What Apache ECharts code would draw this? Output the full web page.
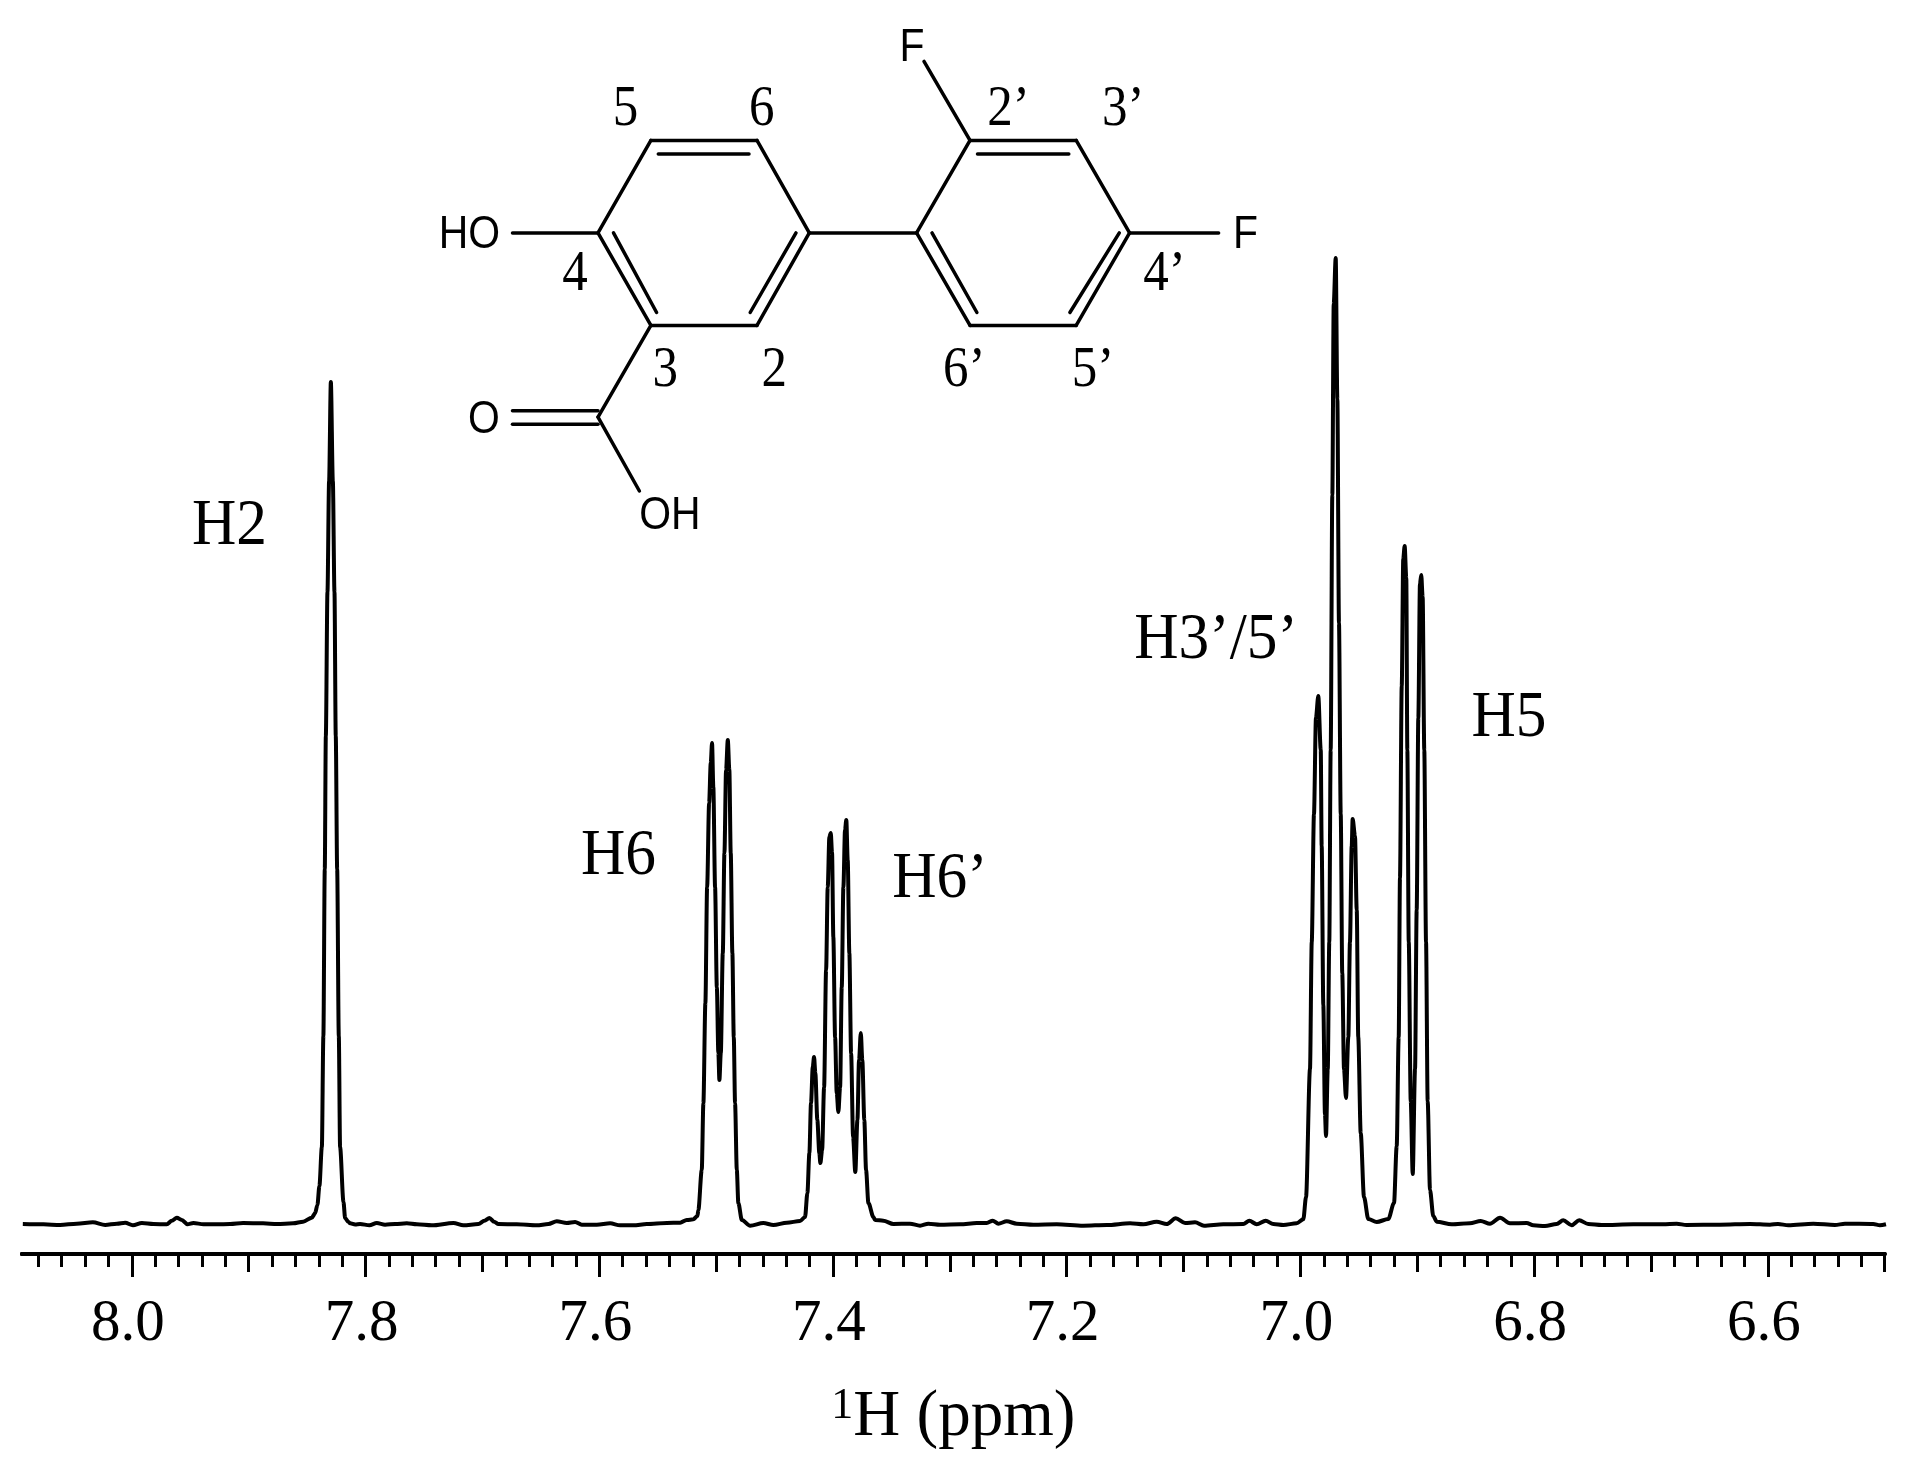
<!DOCTYPE html>
<html>
<head>
<meta charset="utf-8">
<style>html,body{margin:0;padding:0;background:#fff}#c{width:1924px;height:1468px}</style>
<script src="https://cdn.jsdelivr.net/npm/echarts@6/dist/echarts.min.js"></script>
</head>
<body>
<div id="c"></div>
<script>
// [ppm, intensity] pairs
const baselineA = [[8.0933,0],[8.0756,-.3],[8.0614,-1],[8.0471,.3],[8.0334,1.7],[8.0228,-1],[8.0128,.3],[8.0057,1.3],[7.9991,-1.3],[7.9914,1],[7.9815,0],[7.9701,-.3],[7.9658,3.3],[7.9615,6.3],[7.9572,4],[7.9524,-.3],[7.9473,1],[7.9387,-.3],[7.9273,-.3],[7.9159,0],[7.9048,1],[7.8877,.7],[7.8757,0],[7.8620,.7],[7.8534,2.3]];
const peakH2 = [[7.8460,6.3],[7.8432,10.7],[7.8412,19],[7.8395,38],[7.8374,77],[7.8361,188],[7.8349,355],[7.8340,488],[7.8326,632],[7.8312,743],[7.8297,842],[7.8280,743],[7.8266,632],[7.8255,488],[7.8243,355],[7.8229,188],[7.8218,77],[7.8189,22],[7.8175,6],[7.8147,2],[7.8132,.7]];
const baselineB = [[7.8089,-.5],[7.8047,0],[7.7967,-1.3],[7.7904,1],[7.7833,-.7],[7.7747,0],[7.7647,.7],[7.7561,-.3],[7.7433,-1.3],[7.7248,1],[7.7163,-1.3],[7.7034,0],[7.6983,3.3],[7.6940,6],[7.6900,2.3],[7.6863,0],[7.6706,-.3],[7.6535,-1.3],[7.6435,0],[7.6364,2.7],[7.6278,1],[7.6207,2],[7.6150,-.7],[7.6021,-.7],[7.5907,.7],[7.5822,-1.3],[7.5708,-1.3],[7.5593,0],[7.5422,1],[7.5308,1.3],[7.5251,4],[7.5195,4.7],[7.5160,8]];
const peakH6 = [[7.5152,14],[7.5123,54],[7.5109,121],[7.5092,221],[7.5077,337],[7.5060,421],[7.5046,461],[7.5035,481],[7.5024,437],[7.5009,337],[7.4994,237],[7.4981,171],[7.4972,144],[7.4960,171],[7.4943,271],[7.4929,371],[7.4915,454],[7.4900,484],[7.4887,454],[7.4875,371],[7.4861,271],[7.4849,187],[7.4838,121],[7.4823,54],[7.4810,21],[7.4780,4]];
const baselineC = [[7.4709,-1.7],[7.4596,1],[7.4510,-1],[7.4395,1.3],[7.4282,3],[7.4239,7]];
const peakH6p = [[7.4219,31],[7.4202,71],[7.4188,121],[7.4173,157],[7.4162,167],[7.4151,151],[7.4134,104],[7.4117,71],[7.4108,61],[7.4093,74],[7.4076,137],[7.4059,254],[7.4045,337],[7.4031,387],[7.4019,391],[7.4008,371],[7.3997,287],[7.3982,187],[7.3968,131],[7.3954,112],[7.3939,137],[7.3925,237],[7.3911,337],[7.3897,394],[7.3886,404],[7.3874,364],[7.3860,271],[7.3845,171],[7.3828,87],[7.3809,52],[7.3791,104],[7.3777,164],[7.3762,191],[7.3749,164],[7.3732,104],[7.3717,54],[7.3697,21],[7.3654,7]];
const baselineD = [[7.3640,4],[7.3569,3.3],[7.3483,0],[7.3341,.3],[7.3255,-1.7],[7.3184,.3],[7.3084,-.7],[7.2913,-.3],[7.2770,1],[7.2684,1],[7.2633,3.3],[7.2585,.3],[7.2513,2.7],[7.2427,.3],[7.2285,-.7],[7.2085,-.3],[7.1858,-1.7],[7.1657,-1],[7.1458,.7],[7.1344,-.3],[7.1230,2.3],[7.1144,0],[7.1067,5.7],[7.0987,1],[7.0902,1.7],[7.0825,-1.7],[7.0660,-.3],[7.0489,0],[7.0437,3.3],[7.0374,-.3],[7.0297,3.3],[7.0232,0],[7.0146,-1],[7.0032,.7],[6.9975,4.7]];
const peakH35 = [[6.9952,27],[6.9918,155],[6.9903,282],[6.9884,410],[6.9867,506],[6.9847,528],[6.9826,474],[6.9818,378],[6.9804,219],[6.9790,110],[6.9781,88],[6.9766,155],[6.9753,282],[6.9741,474],[6.9727,729],[6.9715,920],[6.9698,966],[6.9684,825],[6.9670,601],[6.9655,410],[6.9642,251],[6.9627,155],[6.9610,126],[6.9590,187],[6.9576,282],[6.9561,378],[6.9553,405],[6.9533,388],[6.9518,314],[6.9505,187],[6.9484,91],[6.9456,27],[6.9419,5]];
const valleyE = [[6.9347,2],[6.9248,5]];
const peakH5 = [[6.9199,21],[6.9176,78],[6.9159,187],[6.9148,346],[6.9133,538],[6.9120,665],[6.9108,678],[6.9094,646],[6.9085,474],[6.9073,282],[6.9056,123],[6.9039,50],[6.9019,155],[6.9005,314],[6.8991,506],[6.8977,640],[6.8966,649],[6.8954,627],[6.8940,474],[6.8925,282],[6.8911,123],[6.8891,34],[6.8863,8]];
const baselineF = [[6.8834,2.3],[6.8705,-.3],[6.8549,.7],[6.8457,3],[6.8378,.3],[6.8292,6.3],[6.8207,.7],[6.8064,1],[6.8007,-1.3],[6.7907,-2],[6.7807,0],[6.7751,3.7],[6.7679,-1.3],[6.7614,3.7],[6.7537,0],[6.7422,-1],[6.7152,-.3],[6.6897,-.3],[6.6780,.3],[6.6695,-1],[6.6410,-.7],[6.6153,0],[6.5982,-.7],[6.5913,0],[6.5825,-1.3],[6.5611,.3],[6.5426,-1],[6.5340,.3],[6.5098,0],[6.5041,-1.3],[6.4989,-.3]];

const majorTicks = [8.0,7.8,7.6,7.4,7.2,7.0,6.8,6.6];
const mediumTicks = [7.9,7.7,7.5,7.3,7.1,6.9,6.7,6.5];
const minorTicks = [8.08,8.06,8.04,8.02,7.98,7.96,7.94,7.92,7.88,7.86,7.84,7.82,7.78,7.76,7.74,7.72,7.68,7.66,7.64,7.62,7.58,7.56,7.54,7.52,7.48,7.46,7.44,7.42,7.38,7.36,7.34,7.32,7.28,7.26,7.24,7.22,7.18,7.16,7.14,7.12,7.08,7.06,7.04,7.02,6.98,6.96,6.94,6.92,6.88,6.86,6.84,6.82,6.78,6.76,6.74,6.72,6.68,6.66,6.64,6.62,6.58,6.56,6.54,6.52];
const peakLabels = [["H2",229.5,527],["H6",618.5,857],["H6’",940,880],["H3’/5’",1216,641],["H5",1509,719]];
const atomNumbers = [["5",625.6,110],["6",761.7,110],["2’",1008.5,110],["3’",1123.3,110],["4",575,275],["4’",1164.6,275],["3",665.2,371],["2",774.3,371],["6’",964.3,371],["5’",1092.9,371]];
const atomSymbols = [["F",912,48],["HO",469.5,235],["F",1245.6,235],["O",483.8,420],["OH",669.8,516]];
const bonds = [
 [650.9,140.4,757,140.4],[757,140.4,809.3,232.9],[809.3,232.9,757,325.4],[757,325.4,650.9,325.4],[650.9,325.4,598,232.9],[598,232.9,650.9,140.4],
 [970,140.4,1076.2,140.4],[1076.2,140.4,1129.6,232.9],[1129.6,232.9,1076.2,325.4],[1076.2,325.4,970,325.4],[970,325.4,916.6,232.9],[916.6,232.9,970,140.4],
 [809.3,232.9,916.6,232.9],[512.5,232.9,598,232.9],[1129.6,232.9,1218.6,232.9],[970,140.4,924,61.4],
 [650.9,325.4,598,417.1],[598,417.1,639.4,491],[512.5,410.7,598,410.7],[512.5,424.3,598,424.3],
 [658.3,153.9,749,153.9],[613.5,232.9,656.6,312.5],[796,232.9,750.2,312.5],
 [977.5,153.9,1068.8,153.9],[932,232.9,976.9,312.5],[1119.3,232.9,1069.9,312.5]
];

const spectrum = [].concat(baselineA,peakH2,baselineB,peakH6,baselineC,peakH6p,baselineD,peakH35,valleyE,peakH5,baselineF);
const ink = '#000';
const serif = '"Liberation Serif"';
const sans = '"Liberation Sans"';

function tickAxis(values, len, withLabels){
  const ax = {
    type:'value', inverse:true, min:6.5, max:8.094, position:'bottom', offset:0,
    axisLine:{show:true,onZero:false,lineStyle:{color:ink,width:4}},
    axisTick:{show:true,length:len,customValues:values,lineStyle:{color:ink,width:3}},
    splitLine:{show:false}, minorTick:{show:false},
    axisLabel:{show:false}
  };
  if(withLabels){
    ax.axisLabel = {show:true,customValues:values,margin:41,color:ink,fontFamily:serif,fontSize:59,padding:[0,8,0,0],
      hideOverlap:false,showMinLabel:true,showMaxLabel:true,formatter:v=>v.toFixed(1)};
    ax.name = '{sup|1}{main|H (ppm)}';
    ax.nameLocation='middle';
    ax.nameGap=130;
    ax.nameTextStyle={color:ink,rich:{
      sup:{fontFamily:serif,fontSize:44,color:ink,padding:[0,0,24,0]},
      main:{fontFamily:serif,fontSize:65,color:ink}}};
  }
  return ax;
}

const graphics = [];
bonds.forEach(b=>graphics.push({type:'line',silent:true,shape:{x1:b[0],y1:b[1],x2:b[2],y2:b[3]},style:{stroke:ink,lineWidth:3.5,lineCap:'round'}}));
atomNumbers.forEach(t=>graphics.push({type:'text',silent:true,x:t[1],y:t[2],scaleX:.88,style:{text:t[0],fill:ink,font:'58px '+serif,textAlign:'center',textVerticalAlign:'middle'}}));
atomSymbols.forEach(t=>graphics.push({type:'text',silent:true,x:t[1],y:t[2],scaleX:.87,style:{text:t[0],fill:ink,font:'47px '+sans,textAlign:'center',textVerticalAlign:'middle'}}));
peakLabels.forEach(t=>graphics.push({type:'text',silent:true,x:t[1],y:t[2],scaleX:.93,style:{text:t[0],fill:ink,font:'66px '+serif,textAlign:'center',textVerticalAlign:'middle'}}));

const chart = echarts.init(document.getElementById('c'),null,{renderer:'canvas'});
chart.setOption({
  backgroundColor:'#fff',
  animation:false,
  grid:{left:22,right:39.3,top:200,bottom:214,containLabel:false,outerBoundsMode:'none'},
  xAxis:[tickAxis(majorTicks,23,true),tickAxis(mediumTicks,18,false),tickAxis(minorTicks,13,false)],
  yAxis:{type:'value',min:-30,max:1024,show:false,splitLine:{show:false}},
  series:[{type:'line',data:spectrum,xAxisIndex:0,showSymbol:false,symbol:'none',clip:false,
    smooth:0.3,smoothMonotone:'x',lineStyle:{color:ink,width:4}}],
  graphic:graphics
});
</script>
</body>
</html>
